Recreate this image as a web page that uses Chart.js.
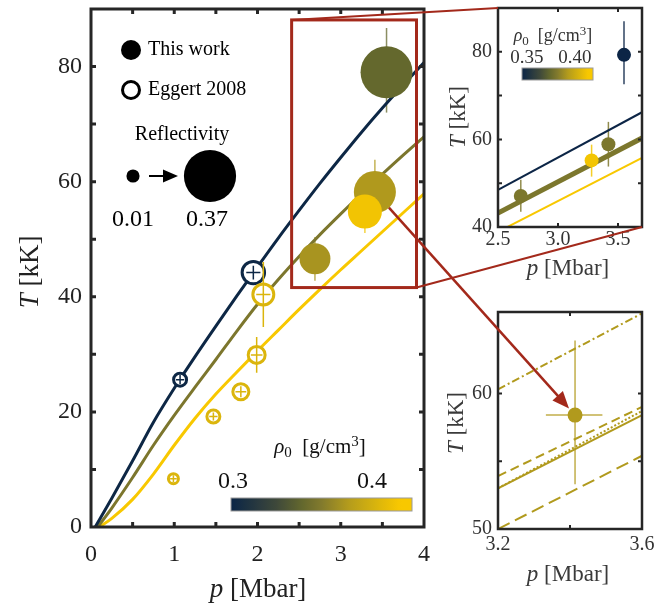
<!DOCTYPE html>
<html>
<head>
<meta charset="utf-8">
<script src="https://cdn.jsdelivr.net/npm/chart.js@4.4.1/dist/chart.umd.min.js"></script>
<style>
  body { margin: 0; background: #fff; }
  #wrap { position: relative; width: 656px; height: 611px; }
  canvas { position: absolute; }
</style>
</head>
<body>
<div id="wrap">
  <canvas id="main" width="440" height="611" style="left:0;top:0"></canvas>
  <canvas id="zoomA" width="216" height="290" style="left:440px;top:0"></canvas>
  <canvas id="zoomB" width="216" height="321" style="left:440px;top:290px"></canvas>
  <canvas id="links" width="656" height="611" style="left:0;top:0"></canvas>
</div>
<script>
// ---- main panel: model curves, p [Mbar] -> T [kK]
const navyP = [0.05, 0.25, 0.5, 0.75, 1, 1.25, 1.5, 1.75, 2, 2.25, 2.5, 2.75, 3, 3.25, 3.5, 3.75, 4];
const navyT = [0, 5, 11.5, 18.2, 24.1, 29.6, 34.9, 40.1, 45.2, 50.2, 55, 59.7, 64.2, 68.6, 72.8, 76.8, 80.7];
const oliveP = [0.08, 0.25, 0.5, 0.75, 1, 1.25, 1.5, 1.75, 2, 2.25, 2.5, 2.75, 3, 3.25, 3.5, 3.75, 4];
const oliveT = [0, 3.3, 8.6, 14.2, 19.4, 24.3, 29.1, 34, 38.7, 43, 47, 50.8, 54.4, 57.9, 61.3, 64.6, 67.8];
const yellowP = [0.1, 0.25, 0.5, 0.75, 1, 1.25, 1.5, 1.75, 2, 2.25, 2.5, 2.75, 3, 3.25, 3.5, 3.75, 4];
const yellowT = [0, 1.5, 4.8, 9.2, 14.2, 18.9, 23.1, 26.9, 30.6, 34.2, 37.8, 41.3, 44.7, 48, 51.3, 54.6, 57.9];
const curveRho = [0.30, 0.361, 0.422];

// this work (filled), reflectivity sets marker size, rho0 sets colour
const thisP = [2.69, 3.41, 3.29, 3.55];
const thisT = [46.6, 58.2, 54.8, 79];
const thisTlo = [42.8, 52.6, 51.1, 72];
const thisThi = [50.4, 63.8, 58.6, 86.7];
const thisRefl = [0.184, 0.281, 0.211, 0.368];
const thisRho = [0.3786, 0.3817, 0.4164, 0.350];

// Eggert 2008 (open)
const eggP = [1.07, 1.95, 2.07, 1.99, 1.80, 1.47, 0.99];
const eggT = [25.6, 44.2, 40.4, 29.9, 23.5, 19.2, 8.4];
const eggPErr = [0.05, 0.085, 0.085, 0.07, 0.065, 0.05, 0.04];
const eggTErr = [0.8, 1.2, 5.65, 3.1, 0.95, 0.7, 0.6];
const eggRefl = [0.026, 0.109, 0.096, 0.061, 0.053, 0.026, 0];
const eggRho = [0.30, 0.30, 0.404, 0.404, 0.404, 0.404, 0.404];

const mainXLabels = [0, 1, 2, 3, 4];
const mainYLabels = [0, 20, 40, 60, 80];
const mainXTicks = [0.5, 1, 1.5, 2, 2.5, 3, 3.5];
const mainYTicks = [10, 20, 30, 40, 50, 60, 70, 80];
const zoomBoxP = [2.41, 3.91];
const zoomBoxT = [41.6, 88.1];
const barMain = [0.2986, 0.4288];
const barMainLabels = [0.3, 0.4];

// ---- top right inset
const insLineP = [2.5, 3.7];
const insNavyT = [48.5, 66.2];
const insOliveT = [43.2, 60.3];
const insYellowT = [38.9, 55.8];
const insLineRho = [0.345, 0.3803, 0.4151];
const insP = [2.69, 3.28, 3.42, 3.55];
const insT = [47.1, 55.2, 58.9, 79.3];
const insTlo = [43.5, 51.5, 53.8, 72.6];
const insThi = [50.8, 58.8, 64, 87];
const insPErr = [0, 0, 0, 0.04];
const insRho = [0.3803, 0.4121, 0.3803, 0.345];
const barZoom = [0.3448, 0.4188];
const barZoomLabels = [0.35, 0.40];
const insXLabels = [2.5, 3.0, 3.5];
const insYLabels = [40, 60, 80];
const insXTicks = [3.0, 3.5];
const insYTicks = [50, 60, 70, 80];

// ---- bottom right inset
const detP = [3.2, 3.6];
const detSolidT = [53.0, 58.4];
const detDottedT = [53.0, 58.7];
const detDashT = [53.9, 59.0];
const detLongDashT = [50.0, 55.4];
const detDashDotT = [60.3, 65.9];
const detPointP = [3.414];
const detPointT = [58.4];
const detPlo = [3.333], detPhi = [3.49];
const detTlo = [53.3], detThi = [63.9];
const detRho = 0.382;
const detXLabels = [3.2, 3.6];
const detYLabels = [50, 60];
const detXTicks = [3.4];
const detYTicks = [55, 60];

const SERIF = '"Liberation Serif", "DejaVu Serif", serif';
const RED = '#a3291b';
const FRAME = '#262626';

const cmapStops = [
  [0, [11, 37, 70]], [0.25, [62, 72, 58]], [0.395, [100, 104, 45]],
  [0.5, [130, 122, 45]], [0.65, [180, 156, 28]], [0.93, [248, 200, 0]], [1, [248, 200, 0]]
];

cmap = (rho, range, alpha = 1) => {
  let f = (rho - range[0]) / (range[1] - range[0]);
  f = Math.max(0, Math.min(1, f));
  for (let i = 1; i < cmapStops.length; i++) {
    if (f <= cmapStops[i][0]) {
      const [f0, c0] = cmapStops[i - 1];
      const [f1, c1] = cmapStops[i];
      const t = (f - f0) / (f1 - f0);
      const c = c0.map((v, k) => Math.round(v + (c1[k] - v) * t));
      return `rgba(${c[0]},${c[1]},${c[2]},${alpha})`;
    }
  }
}

rad = R => 5 + 57 * R;
pts = (xs, ys) => xs.map((x, i) => ({ x: x, y: ys[i] }));

rich = (ctx, parts, x, y, size, color, angle) => {
  ctx.save();
  ctx.translate(x, y);
  if (angle) ctx.rotate(angle);
  ctx.fillStyle = color;
  ctx.textBaseline = 'alphabetic';
  const fontOf = p => `${p.it ? 'italic ' : ''}${Math.round(size * (p.s || 1))}px ${SERIF}`;
  let w = 0;
  parts.forEach(p => { ctx.font = fontOf(p); w += ctx.measureText(p.t).width; });
  let cx = -w / 2;
  parts.forEach(p => {
    ctx.font = fontOf(p);
    ctx.fillText(p.t, cx, size * 0.33 + (p.dy || 0) * size);
    cx += ctx.measureText(p.t).width;
  });
  ctx.restore();
}

const T_LABEL = [{ t: 'T', it: 1 }, { t: ' [kK]' }];
const P_LABEL = [{ t: 'p', it: 1 }, { t: ' [Mbar]' }];
const RHO_LABEL = [{ t: 'ρ', it: 1 }, { t: '0', s: 0.7, dy: 0.2 }, { t: '  [g/cm' }, { t: '3', s: 0.7, dy: -0.35 }, { t: ']' }];

axes = cfg => ({
  x: {
    type: 'linear', min: cfg.x[0], max: cfg.x[1],
    grid: { display: false, drawTicks: false }, border: { display: false },
    ticks: {
      font: { family: SERIF, size: cfg.tick }, color: cfg.color, padding: cfg.xPad,
      maxRotation: 0, autoSkip: false, callback: v => v.toFixed(cfg.dec)
    },
    afterBuildTicks: s => { s.ticks = cfg.xLabels.map(v => ({ value: v })); },
    afterFit: s => { s.height = cfg.xH; s.paddingLeft = 0; s.paddingRight = 0; }
  },
  y: {
    type: 'linear', min: cfg.y[0], max: cfg.y[1],
    grid: { display: false, drawTicks: false }, border: { display: false },
    ticks: {
      font: { family: SERIF, size: cfg.tick }, color: cfg.color, padding: cfg.yPad,
      autoSkip: false, callback: v => String(v)
    },
    afterBuildTicks: s => { s.ticks = cfg.yLabels.map(v => ({ value: v })); },
    afterFit: s => { s.width = cfg.yW; s.paddingTop = 0; s.paddingBottom = 0; }
  }
});

// box round the plot area with inward ticks on all four sides
framePlugin = (xTicks, yTicks, width, tickW, len) => ({
  id: 'frame',
  afterDatasetsDraw(chart) {
    const { ctx, chartArea: a, scales: { x, y } } = chart;
    ctx.save();
    ctx.strokeStyle = FRAME;
    ctx.lineWidth = tickW;
    ctx.beginPath();
    xTicks.forEach(v => {
      const px = x.getPixelForValue(v);
      ctx.moveTo(px, a.bottom); ctx.lineTo(px, a.bottom - len);
      ctx.moveTo(px, a.top); ctx.lineTo(px, a.top + len);
    });
    yTicks.forEach(v => {
      const py = y.getPixelForValue(v);
      ctx.moveTo(a.left, py); ctx.lineTo(a.left + len, py);
      ctx.moveTo(a.right, py); ctx.lineTo(a.right - len, py);
    });
    ctx.stroke();
    ctx.lineWidth = width;
    ctx.strokeRect(a.left, a.top, a.right - a.left, a.bottom - a.top);
    ctx.restore();
  }
});

// error bars: sets drawn under the markers, or over them for open rings
errorPlugin = sets => {
  const draw = (chart, s) => {
    const { ctx, scales: { x, y } } = chart;
    ctx.save();
    ctx.lineWidth = s.width;
    s.p.forEach((p, i) => {
      ctx.strokeStyle = s.colors[i];
      ctx.beginPath();
      const px = x.getPixelForValue(p), py = y.getPixelForValue(s.t[i]);
      if (s.tlo[i] !== s.thi[i]) {
        ctx.moveTo(px, y.getPixelForValue(s.tlo[i]));
        ctx.lineTo(px, y.getPixelForValue(s.thi[i]));
      }
      if (s.plo[i] !== s.phi[i]) {
        ctx.moveTo(x.getPixelForValue(s.plo[i]), py);
        ctx.lineTo(x.getPixelForValue(s.phi[i]), py);
      }
      ctx.stroke();
    });
    ctx.restore();
  };
  return {
    id: 'errors',
    beforeDatasetsDraw(chart) { sets.filter(s => !s.over).forEach(s => draw(chart, s)); },
    afterDatasetsDraw(chart) { sets.filter(s => s.over).forEach(s => draw(chart, s)); }
  };
}

colorbar = (ctx, range, labels, box, tickSize, labelSize, color) => {
  const g = ctx.createLinearGradient(box.x, 0, box.x + box.w, 0);
  for (let i = 0; i <= 40; i++) g.addColorStop(i / 40, cmap(range[0] + (range[1] - range[0]) * i / 40, range));
  ctx.fillStyle = g;
  ctx.fillRect(box.x, box.y, box.w, box.h);
  ctx.strokeStyle = '#9a9a9a';
  ctx.lineWidth = 1;
  ctx.strokeRect(box.x, box.y, box.w, box.h);
  labels.forEach(v => {
    const px = box.x + (v - range[0]) / (range[1] - range[0]) * box.w;
    rich(ctx, [{ t: v.toFixed(labels[0] < 0.31 ? 1 : 2) }], px, box.tickY, tickSize, color);
  });
  rich(ctx, RHO_LABEL, box.labelX, box.labelY, labelSize, color);
}

const layoutOpts = (top, right) => ({ autoPadding: false, padding: { left: 0, top: top, right: right, bottom: 0 } });

// ---------------- main chart
const mainDecor = {
  id: 'mainDecor',
  afterDraw(chart) {
    const ctx = chart.ctx;
    rich(ctx, T_LABEL, 29, 272, 27, '#222', -Math.PI / 2);
    rich(ctx, P_LABEL, 258, 588, 27, '#222');

    // legend
    ctx.save();
    ctx.fillStyle = '#000';
    ctx.strokeStyle = '#000';
    ctx.beginPath(); ctx.arc(131, 50, 10, 0, 2 * Math.PI); ctx.fill();
    ctx.lineWidth = 3;
    ctx.beginPath(); ctx.arc(131, 90, 8.5, 0, 2 * Math.PI); ctx.stroke();
    ctx.font = `20px ${SERIF}`;
    ctx.textBaseline = 'middle';
    ctx.fillText('This work', 148, 50);
    ctx.fillText('Eggert 2008', 148, 90);
    ctx.restore();
    rich(ctx, [{ t: 'Reflectivity' }], 182, 133, 20, '#000');
    ctx.save();
    ctx.fillStyle = '#000';
    ctx.strokeStyle = '#000';
    ctx.beginPath(); ctx.arc(133, 176, rad(0.01) + 1, 0, 2 * Math.PI); ctx.fill();
    ctx.lineWidth = 2;
    ctx.beginPath(); ctx.moveTo(149, 176); ctx.lineTo(165, 176); ctx.stroke();
    ctx.beginPath(); ctx.moveTo(163, 169.5); ctx.lineTo(178, 176); ctx.lineTo(163, 182.5); ctx.closePath(); ctx.fill();
    ctx.beginPath(); ctx.arc(210, 176, rad(0.37), 0, 2 * Math.PI); ctx.fill();
    ctx.restore();
    rich(ctx, [{ t: '0.01' }], 133, 218, 24, '#000');
    rich(ctx, [{ t: '0.37' }], 207, 218, 24, '#000');

    ctx.save();
    colorbar(ctx, barMain, barMainLabels, { x: 231, y: 498, w: 181, h: 13, tickY: 480, labelX: 320, labelY: 446 }, 24, 21, '#111');
    ctx.restore();
  }
};

const mainChart = new Chart(document.getElementById('main'), {
  type: 'line',
  data: {
    datasets: [
      {
        data: pts(thisP, thisT), showLine: false, order: 0,
        pointRadius: thisRefl.map(rad), pointBorderWidth: 0,
        pointBackgroundColor: thisRho.map(r => cmap(r, barMain))
      },
      {
        data: pts(eggP, eggT), showLine: false, order: 1,
        pointRadius: eggRefl.map(rad), pointBorderWidth: 3,
        pointBorderColor: eggRho.map(r => cmap(r, barMain)), pointBackgroundColor: '#fff'
      },
      { data: pts(navyP, navyT), borderColor: cmap(curveRho[0], barMain), borderWidth: 3, pointRadius: 0, cubicInterpolationMode: 'monotone', order: 2 },
      { data: pts(oliveP, oliveT), borderColor: cmap(curveRho[1], barMain), borderWidth: 3, pointRadius: 0, cubicInterpolationMode: 'monotone', order: 2 },
      { data: pts(yellowP, yellowT), borderColor: cmap(curveRho[2], barMain), borderWidth: 3, pointRadius: 0, cubicInterpolationMode: 'monotone', order: 2 }
    ]
  },
  options: {
    responsive: false, animation: false, devicePixelRatio: 1, events: [],
    layout: layoutOpts(9, 16),
    plugins: { legend: { display: false }, tooltip: { enabled: false } },
    scales: axes({ x: [0, 4], y: [0, 90], xLabels: mainXLabels, yLabels: mainYLabels, tick: 24, color: '#222', xPad: 13, yPad: 9, xH: 84, yW: 91, dec: 0 })
  },
  plugins: [
    errorPlugin([
      { p: thisP, t: thisT, tlo: thisTlo, thi: thisThi, plo: thisP, phi: thisP, width: 1.5, colors: thisRho.map(r => cmap(r, barMain, 0.75)), over: false },
      {
        p: eggP, t: eggT, tlo: eggT.map((t, i) => t - eggTErr[i]), thi: eggT.map((t, i) => t + eggTErr[i]),
        plo: eggP.map((p, i) => p - eggPErr[i]), phi: eggP.map((p, i) => p + eggPErr[i]),
        width: 1.5, colors: eggRho.map(r => cmap(r, barMain)), over: true
      }
    ]),
    framePlugin(mainXTicks, mainYTicks, 3, 3, 5),
    mainDecor
  ]
});

// ---------------- top right inset
const zoomA = new Chart(document.getElementById('zoomA'), {
  type: 'line',
  data: {
    datasets: [
      {
        data: pts(insP, insT), showLine: false, order: 0,
        pointRadius: 7, pointBorderWidth: 0,
        pointBackgroundColor: insRho.map(r => cmap(r, barZoom))
      },
      { data: pts(insLineP, insNavyT), borderColor: cmap(insLineRho[0], barZoom), borderWidth: 2, pointRadius: 0, order: 2 },
      { data: pts(insLineP, insOliveT), borderColor: cmap(insLineRho[1], barZoom), borderWidth: 5, pointRadius: 0, order: 2 },
      { data: pts(insLineP, insYellowT), borderColor: cmap(insLineRho[2], barZoom), borderWidth: 2, pointRadius: 0, order: 2 }
    ]
  },
  options: {
    responsive: false, animation: false, devicePixelRatio: 1, events: [],
    layout: layoutOpts(8, 14),
    plugins: { legend: { display: false }, tooltip: { enabled: false } },
    scales: axes({ x: [2.5, 3.7], y: [40, 90], xLabels: insXLabels, yLabels: insYLabels, tick: 20, color: '#333', xPad: 1, yPad: 6, xH: 63, yW: 58, dec: 1 })
  },
  plugins: [
    errorPlugin([
      {
        p: insP, t: insT, tlo: insTlo, thi: insThi,
        plo: insP.map((p, i) => p - insPErr[i]), phi: insP.map((p, i) => p + insPErr[i]),
        width: 1.5, colors: insRho.map(r => cmap(r, barZoom, 0.85)), over: false
      }
    ]),
    framePlugin(insXTicks, insYTicks, 2.5, 2, 4),
    {
      id: 'zoomADecor',
      afterDraw(chart) {
        const ctx = chart.ctx;
        rich(ctx, T_LABEL, 17, 117, 23, '#3a3a3a', -Math.PI / 2);
        rich(ctx, P_LABEL, 128, 267, 23, '#3a3a3a');
        ctx.save();
        colorbar(ctx, barZoom, barZoomLabels, { x: 82, y: 68, w: 71, h: 12, tickY: 57, labelX: 113, labelY: 35 }, 19, 18, '#333');
        ctx.restore();
      }
    }
  ]
});

// ---------------- bottom right inset
const detColor = cmap(detRho, barMain);
const zoomB = new Chart(document.getElementById('zoomB'), {
  type: 'line',
  data: {
    datasets: [
      { data: pts(detPointP, detPointT), showLine: false, order: 0, pointRadius: 7.5, pointBorderWidth: 0, pointBackgroundColor: detColor },
      { data: pts(detP, detDashDotT), borderColor: detColor, borderWidth: 2, borderDash: [8, 3, 2, 3], pointRadius: 0, order: 2 },
      { data: pts(detP, detDashT), borderColor: detColor, borderWidth: 2, borderDash: [9, 5], pointRadius: 0, order: 2 },
      { data: pts(detP, detDottedT), borderColor: detColor, borderWidth: 2, borderDash: [2, 2], pointRadius: 0, order: 2 },
      { data: pts(detP, detSolidT), borderColor: detColor, borderWidth: 2, pointRadius: 0, order: 2 },
      { data: pts(detP, detLongDashT), borderColor: detColor, borderWidth: 2, borderDash: [13, 6], pointRadius: 0, order: 2 }
    ]
  },
  options: {
    responsive: false, animation: false, devicePixelRatio: 1, events: [],
    layout: layoutOpts(22, 14),
    plugins: { legend: { display: false }, tooltip: { enabled: false } },
    scales: axes({ x: [3.2, 3.6], y: [50, 66], xLabels: detXLabels, yLabels: detYLabels, tick: 20, color: '#333', xPad: 4, yPad: 6, xH: 82, yW: 58, dec: 1 })
  },
  plugins: [
    errorPlugin([
      { p: detPointP, t: detPointT, tlo: detTlo, thi: detThi, plo: detPlo, phi: detPhi, width: 1.5, colors: [cmap(detRho, barMain, 0.8)], over: false }
    ]),
    framePlugin(detXTicks, detYTicks, 2.5, 2, 4),
    {
      id: 'zoomBDecor',
      afterDraw(chart) {
        rich(chart.ctx, T_LABEL, 15, 133, 23, '#3a3a3a', -Math.PI / 2);
        rich(chart.ctx, P_LABEL, 128, 283, 23, '#3a3a3a');
      }
    }
  ]
});

// ---------------- zoom box, connector lines and arrow across the panels
drawLinks = () => {
  const ctx = document.getElementById('links').getContext('2d');
  const mx = mainChart.scales.x, my = mainChart.scales.y;
  const a = zoomA.chartArea;
  const l = mx.getPixelForValue(zoomBoxP[0]), r = mx.getPixelForValue(zoomBoxP[1]);
  const t = my.getPixelForValue(zoomBoxT[1]), b = my.getPixelForValue(zoomBoxT[0]);
  ctx.strokeStyle = RED;
  ctx.fillStyle = RED;
  ctx.lineWidth = 3;
  ctx.strokeRect(l, t, r - l, b - t);
  ctx.lineWidth = 2;
  ctx.beginPath();
  ctx.moveTo(l, t); ctx.lineTo(440 + a.left, a.top);
  ctx.moveTo(r, b); ctx.lineTo(440 + a.right, a.bottom);
  ctx.stroke();

  const sx = mx.getPixelForValue(thisP[1]), sy = my.getPixelForValue(thisT[1]);
  const ex = 440 + zoomB.scales.x.getPixelForValue(detPointP[0]);
  const ey = 290 + zoomB.scales.y.getPixelForValue(detPointT[0]);
  const len = Math.hypot(ex - sx, ey - sy), ux = (ex - sx) / len, uy = (ey - sy) / len;
  const x0 = sx + ux * rad(thisRefl[1]), y0 = sy + uy * rad(thisRefl[1]);
  const x1 = ex - ux * 9, y1 = ey - uy * 9;
  ctx.lineWidth = 2.5;
  ctx.beginPath();
  ctx.moveTo(x0, y0); ctx.lineTo(x1 - ux * 14, y1 - uy * 14);
  ctx.stroke();
  ctx.beginPath();
  ctx.moveTo(x1, y1);
  ctx.lineTo(x1 - ux * 17 - uy * 7, y1 - uy * 17 + ux * 7);
  ctx.lineTo(x1 - ux * 17 + uy * 7, y1 - uy * 17 - ux * 7);
  ctx.closePath();
  ctx.fill();
}

drawLinks();
</script>
</body>
</html>
